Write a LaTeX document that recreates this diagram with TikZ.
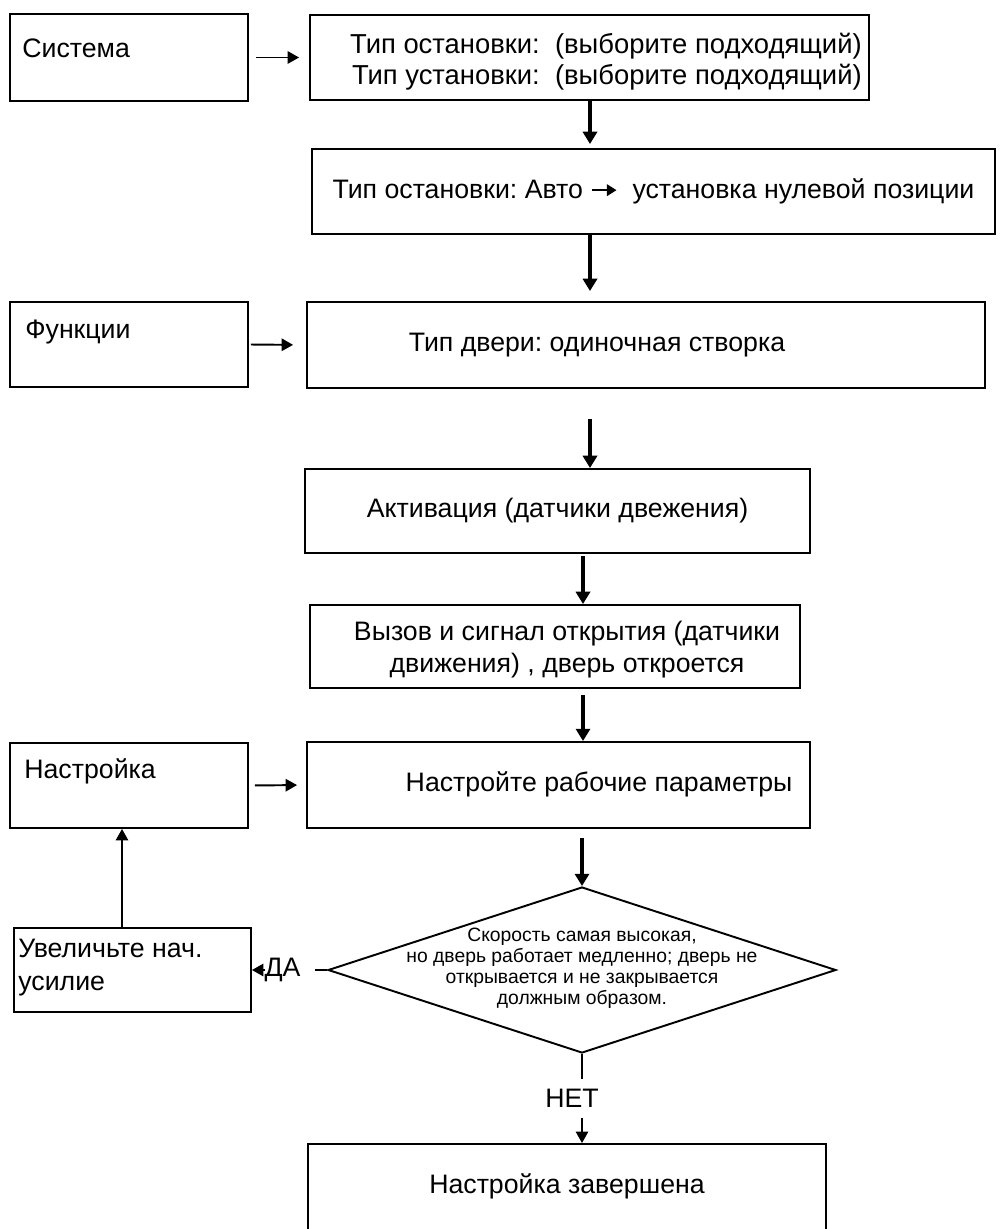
\documentclass[tikz,border=0pt]{standalone}
\usepackage{fontspec}
\setmainfont{Liberation Sans}
\usetikzlibrary{shapes.geometric,arrows.meta,calc}

\begin{document}
\frenchspacing
\begin{tikzpicture}[x=0.02cm,y=-0.02cm,
    every node/.style={font=\fontsize{15.2}{18}\selectfont},
    box/.style={draw, rectangle, line width=1.1pt, inner sep=0pt},
    txt/.style={inner sep=0pt},
    bigarrow/.style={line width=2.8pt, -{Triangle[length=7pt,width=8pt]}},
    thinarrow/.style={line width=1.1pt, -{Triangle[length=6.5pt,width=7pt]}}]
    \useasboundingbox (0,0) rectangle (1000,1229);
    % axes of the vertical arrows
    \coordinate (upper) at (590,0);
    \coordinate (lower) at (583,0);
    \coordinate (back) at (122,0);
    % left column
    \node[box, minimum width=4.76cm, minimum height=1.74cm] (sys) at (129,57.5) {};
    \node[txt, anchor=base west] (systxt) at (22,58) {Система};
    \node[box, minimum width=4.76cm, minimum height=1.7cm] (func) at (129,344.5) {};
    \node[txt, anchor=base west] (functxt) at (25,338) {Функции};
    \node[box, minimum width=4.76cm, minimum height=1.7cm] (tune) at (129,785.5) {};
    \node[txt, anchor=base west] (tunetxt) at (24,778) {Настройка};
    \node[box, minimum width=4.74cm, minimum height=1.68cm] (inc) at (132.5,970) {};
    \node[txt, anchor=north west, align=left, font=\fontsize{15.2}{18.8}\selectfont] (inctxt) at (18,939) {Увеличьте нач.\\усилие};
    % main column
    \node[box, minimum width=11.18cm, minimum height=1.7cm] (stop) at (589.5,57.5) {};
    \node[txt, anchor=north east, align=right, font=\fontsize{15.6}{17.6}\selectfont] (stoptxt) at (862,33) {Тип остановки:\ \ (выборите подходящий)\\Тип установки:\ \ (выборите подходящий)};
    \node[box, minimum width=13.66cm, minimum height=1.7cm] (zero) at (653.5,191.5) {Тип остановки: Авто \tikz[baseline=-0.6ex]\draw[line width=1.3pt, -{Triangle[length=5.5pt,width=6.5pt]}] (0,0) -- (0.5cm,0);\ \ установка нулевой позиции};
    \node[box, minimum width=13.56cm, minimum height=1.72cm] (door) at (646,345) {};
    \node[txt] (doortxt) at (597,345) {Тип двери: одиночная створка};
    \node[box, minimum width=10.1cm, minimum height=1.68cm] (act) at (557.5,511) {Активация (датчики двежения)};
    \node[box, minimum width=9.8cm, minimum height=1.66cm] (call) at (555,646.5) {};
    \node[txt, align=center, font=\fontsize{15.2}{18.2}\selectfont] (calltxt) at (567,650) {Вызов и сигнал открытия (датчики\\движения) , дверь откроется};
    \node[box, minimum width=10.06cm, minimum height=1.72cm] (param) at (558.5,785) {};
    \node[txt] (paramtxt) at (599,784) {Настройте рабочие параметры};
    \node[draw, diamond, line width=1.1pt, inner sep=0pt, aspect=3.06, minimum width=10.16cm, minimum height=3.32cm] (dia) at (582,970) {};
    \node[txt, align=center, font=\fontsize{11}{12}\selectfont] (diatxt) at (582,968) {Скорость самая высокая,\\но дверь работает медленно; дверь не\\открывается и не закрывается\\должным образом.};
    \node[box, minimum width=10.36cm, minimum height=2.2cm] (done) at (567,1199) {};
    \node[txt] (donetxt) at (567,1186) {Настройка завершена};
    % connectors
    \draw[thinarrow, shorten <=0.14cm, shorten >=0.2cm] (sys.east) -- (stop.west);
    \draw[thinarrow, shorten <=0.04cm, shorten >=0.26cm] (func.east) -- (door.west);
    \draw[thinarrow, shorten <=0.12cm, shorten >=0.18cm] (tune.east) -- (param.west);
    \draw[bigarrow, shorten >=0.08cm] (stop.south -| upper) -- (zero.north -| upper);
    \draw[bigarrow, shorten >=0.2cm] (zero.south -| upper) -- (door.north -| upper);
    \draw[bigarrow, shorten <=0.6cm] (door.south -| upper) -- (act.north -| upper);
    \draw[bigarrow, shorten <=0.04cm] (act.south -| lower) -- (call.north -| lower);
    \draw[bigarrow, shorten <=0.12cm] (call.south -| lower) -- (param.north -| lower);
    \draw[bigarrow, shorten <=0.18cm] (param.south -| dia) -- (dia.north);
    \draw[thinarrow] (dia.west) -- node[fill=white, inner sep=0pt, text width=1cm, align=left, minimum height=0.6cm] (yes) {ДА} (inc.east);
    \draw[thinarrow] (dia.south) -- node[fill=white, inner sep=0pt, minimum width=1.4cm, minimum height=0.78cm, xshift=-0.2cm] (no) {НЕТ} (done.north -| dia.south);
    \draw[thinarrow] (inc.north -| back) -- (tune.south -| back);
\end{tikzpicture}
\end{document}
